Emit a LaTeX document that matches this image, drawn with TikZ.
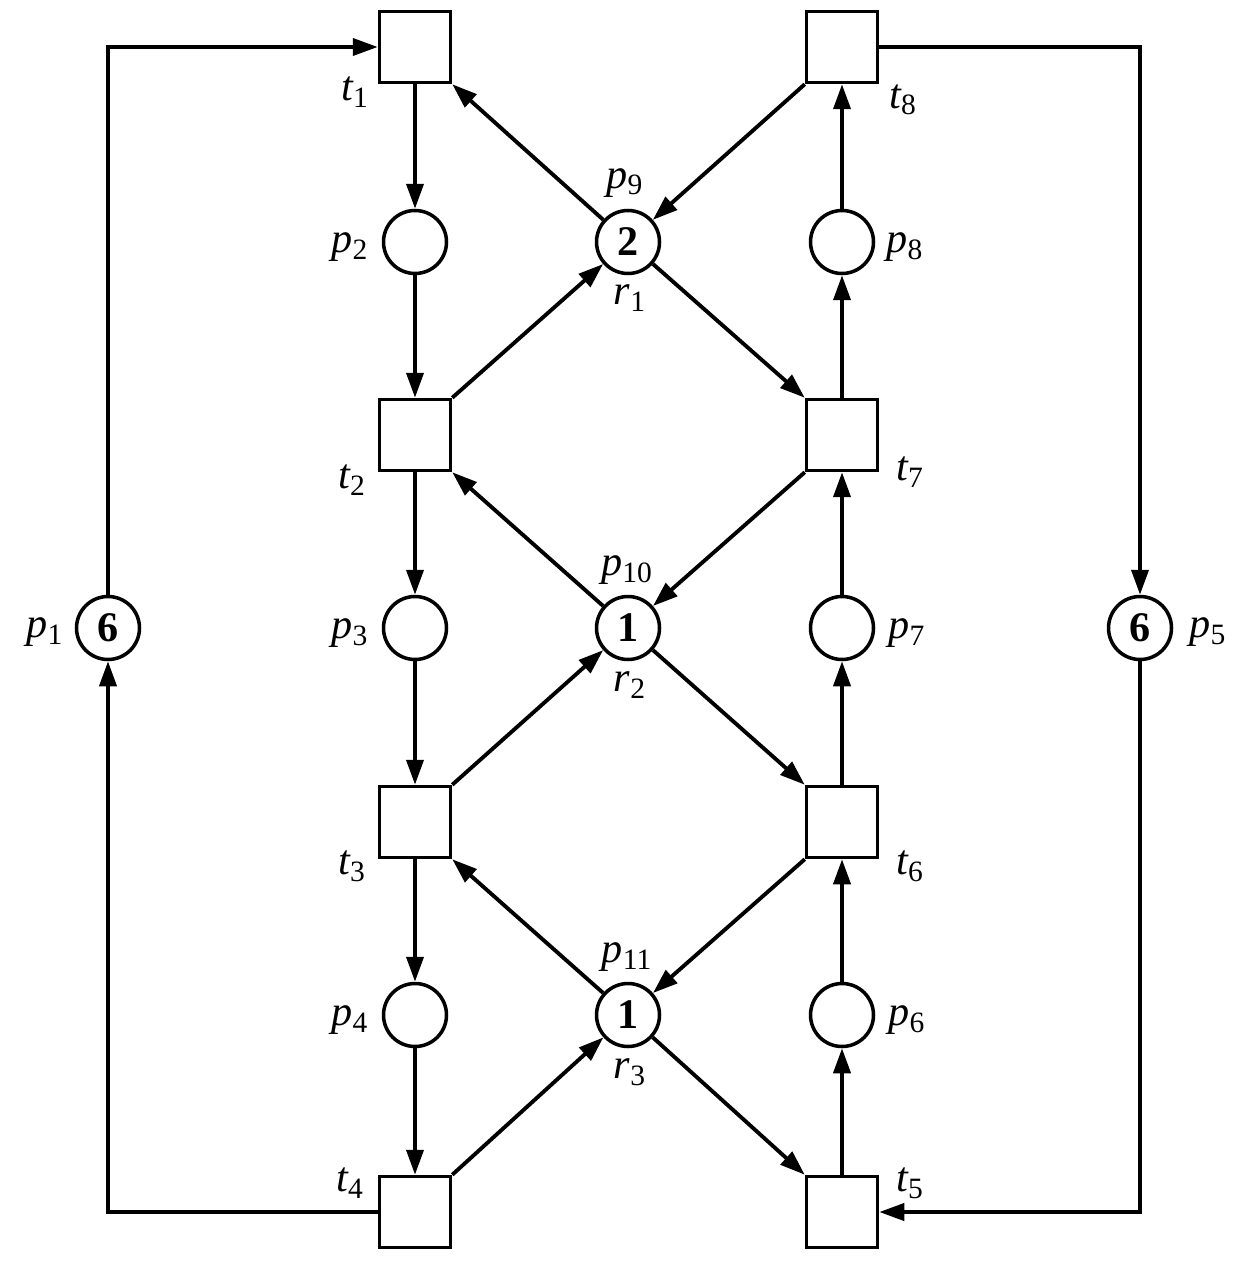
\documentclass[tikz,border=0pt]{standalone}
\usepackage{fontspec}
\setmainfont{Liberation Serif}
\usetikzlibrary{arrows.meta}
\begin{document}
\begin{tikzpicture}[x=0.02cm,y=-0.02cm,
 tr/.style={draw,line width=2pt,minimum size=1.42cm,inner sep=0pt},
 pl/.style={draw,circle,line width=2pt,minimum size=1.26cm,inner sep=0pt,font=\fontsize{24}{26}\selectfont\bfseries},
 lb/.style={font=\fontsize{24}{28}\selectfont\itshape,inner sep=0pt},
 a/.style={line width=2.2pt,-{Triangle[length=0.5cm,width=0.34cm]}}]
\useasboundingbox (0,0) rectangle (1241,1273);
\node[tr] (t1) at (415,47) {}; \node[tr] (t8) at (842,47) {};
\node[tr] (t2) at (415,435) {}; \node[tr] (t7) at (842,435) {};
\node[tr] (t3) at (415,822) {}; \node[tr] (t6) at (842,822) {};
\node[tr] (t4) at (415,1212) {}; \node[tr] (t5) at (842,1212) {};
\node[pl] (p2) at (415,242) {}; \node[pl] (p9) at (628,242) {2}; \node[pl] (p8) at (842,242) {};
\node[pl] (p3) at (415,628) {}; \node[pl] (p10) at (628,628) {1}; \node[pl] (p7) at (842,628) {};
\node[pl] (p4) at (415,1015) {}; \node[pl] (p11) at (628,1015) {1}; \node[pl] (p6) at (842,1015) {};
\node[pl] (p1) at (108,628) {6}; \node[pl] (p5) at (1140,628) {6};
% labels
\node[lb] (l1) at (355,92) {t\textsubscript{\upshape 1}};
\node[lb] (l2) at (352,480) {t\textsubscript{\upshape 2}};
\node[lb] (l3) at (352,866) {t\textsubscript{\upshape 3}};
\node[lb] (l4) at (350,1183) {t\textsubscript{\upshape 4}};
\node[lb] (l5) at (910,1183) {t\textsubscript{\upshape 5}};
\node[lb] (l6) at (910,866) {t\textsubscript{\upshape 6}};
\node[lb] (l7) at (910,472) {t\textsubscript{\upshape 7}};
\node[lb] (l8) at (903,100) {t\textsubscript{\upshape 8}};
\node[lb] (lp1) at (45,632) {p\textsubscript{\upshape 1}};
\node[lb] (lp2) at (350,247) {p\textsubscript{\upshape 2}};
\node[lb] (lp3) at (350,633) {p\textsubscript{\upshape 3}};
\node[lb] (lp4) at (350,1020) {p\textsubscript{\upshape 4}};
\node[lb] (lp5) at (1208,632) {p\textsubscript{\upshape 5}};
\node[lb] (lp6) at (907,1020) {p\textsubscript{\upshape 6}};
\node[lb] (lp7) at (907,633) {p\textsubscript{\upshape 7}};
\node[lb] (lp8) at (905,247) {p\textsubscript{\upshape 8}};
\node[lb] (lp9) at (625,183) {p\textsubscript{\upshape 9}};
\node[lb] (lp10) at (627,570) {p\textsubscript{\upshape 10}};
\node[lb] (lp11) at (627,957) {p\textsubscript{\upshape 11}};
\node[lb] (lr1) at (630,298) {r\textsubscript{\upshape 1}};
\node[lb] (lr2) at (630,685) {r\textsubscript{\upshape 2}};
\node[lb] (lr3) at (630,1072) {r\textsubscript{\upshape 3}};
% vertical arcs
\draw[a] (t1) -- (p2); \draw[a] (p2) -- (t2); \draw[a] (t2) -- (p3);
\draw[a] (p3) -- (t3); \draw[a] (t3) -- (p4); \draw[a] (p4) -- (t4);
\draw[a] (t5) -- (p6); \draw[a] (p6) -- (t6); \draw[a] (t6) -- (p7);
\draw[a] (p7) -- (t7); \draw[a] (t7) -- (p8); \draw[a] (p8) -- (t8);
% resource arcs
\foreach \p/\ta/\tb/\tc/\td in {p9/t1/t8/t2/t7, p10/t2/t7/t3/t6, p11/t3/t6/t4/t5}{
 \draw[a] (\p) -- (\ta.south east);
 \draw[a] (\tb.south west) -- (\p);
 \draw[a] (\tc.north east) -- (\p);
 \draw[a] (\p) -- (\td.north west);
}
% outer loops
\draw[a] (p1) |- (t1);
\draw[a] (t4.west) -| (p1);
\draw[a] (t8) -| (p5);
\draw[a] (p5) |- (t5.east);
\end{tikzpicture}
\end{document}
